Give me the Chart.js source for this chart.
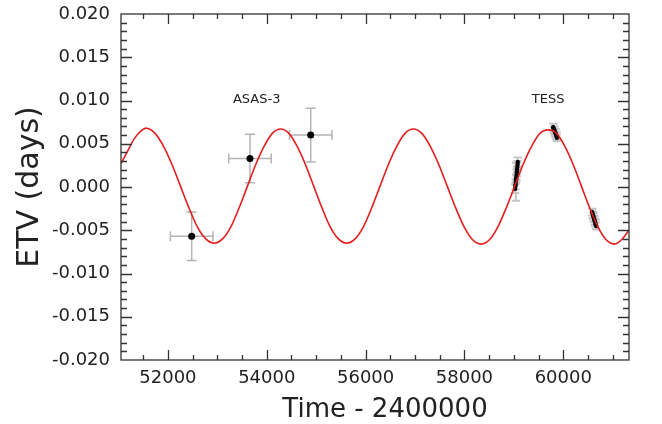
<!DOCTYPE html>
<html>
<head>
<meta charset="utf-8">
<script src="https://cdn.jsdelivr.net/npm/chart.js@4.4.1/dist/chart.umd.min.js"></script>
<style>
  html, body { margin: 0; padding: 0; background: #fff; }
</style>
</head>
<body>
<canvas id="etv" width="662" height="424"></canvas>
<script>
// LTTE model curve
const modelTime = [51050, 51180, 51310, 51440,
  51569, 51740, 51911, 52082, 52253, 52424, 52595, 52766,
  52937, 53105, 53273, 53441, 53609, 53777, 53945, 54113,
  54281, 54448, 54615, 54782, 54949, 55116, 55283, 55450,
  55617, 55786, 55955, 56123, 56292, 56461, 56629, 56798,
  56966, 57137, 57309, 57480, 57651, 57822, 57994, 58165,
  58336, 58506, 58677, 58847, 59017, 59187, 59358, 59528,
  59698, 59865, 60033, 60200, 60367, 60534, 60701, 60868,
  61035, 61180, 61330]
const modelEtv = [0.0027, 0.0041, 0.0055, 0.0064,
  0.0068, 0.0062, 0.0047, 0.0026, 0.0001, -0.0024, -0.0046, -0.0060,
  -0.0065, -0.0060, -0.0046, -0.0024, 0.0001, 0.0026, 0.0047, 0.0062,
  0.0067, 0.0062, 0.0047, 0.0026, 0.0001, -0.0024, -0.0046, -0.0060,
  -0.0065, -0.0060, -0.0046, -0.0024, 0.0001, 0.0026, 0.0047, 0.0062,
  0.0067, 0.0062, 0.0047, 0.0026, 0.0001, -0.0024, -0.0046, -0.0061,
  -0.0066, -0.0061, -0.0046, -0.0024, 0.0001, 0.0026, 0.0047, 0.0062,
  0.0066, 0.0062, 0.0047, 0.0026, 0.0001, -0.0024, -0.0046, -0.0061,
  -0.0066, -0.0061, -0.0050]

// ASAS-3 minima
const asasTime = [52480, 53660, 54889]
const asasEtv = [-0.0057, 0.0033, 0.0060]
const asasTimeErr = [430, 430, 430]
const asasEtvErr = [0.0028, 0.0028, 0.0031]

// TESS minima
const tessTime = [59025, 59030, 59035, 59040, 59045, 59050, 59055, 59060, 59065, 59070, 59075, 59080,
  59795, 59805, 59815, 59825, 59835, 59845, 59855, 59865, 59870,
  60585, 60595, 60605, 60615, 60625, 60635, 60645, 60655, 60665]
const tessEtv = [-0.0002, 0.0001, 0.0003, 0.0006, 0.0009, 0.0011, 0.0014, 0.0017, 0.0020, 0.0023, 0.0026, 0.0029,
  0.0069, 0.0068, 0.0066, 0.0065, 0.0063, 0.0062, 0.0060, 0.0059, 0.0057,
  -0.0029, -0.0031, -0.0033, -0.0035, -0.0037, -0.0039, -0.0041, -0.0043, -0.0045]
const tessEtvErr = [0.0005, 0.0004, 0.0006, 0.0022, 0.0005, 0.0004, 0.0006, 0.0005, 0.0004, 0.0005, 0.0004, 0.0005,
  0.0004, 0.0005, 0.0004, 0.0005, 0.0004, 0.0005, 0.0004, 0.0005, 0.0004,
  0.0004, 0.0005, 0.0004, 0.0005, 0.0004, 0.0005, 0.0004, 0.0005, 0.0004]

const xTicks = [52000, 54000, 56000, 58000, 60000]
const yTicks = [-0.020, -0.015, -0.010, -0.005, 0.000, 0.005, 0.010, 0.015, 0.020]

const labels = [
  { text: 'ASAS-3', x: 53796, y: 0.0101 },
  { text: 'TESS', x: 59692, y: 0.0101 }
]

const ink = '#222'
const font = 'DejaVu Sans'

function points(xs, ys) {
  return xs.map((v, i) => ({ x: v, y: ys[i] }))
}

// gray error bars under the points
const errorBars = {
  id: 'errorBars',
  beforeDatasetsDraw(chart) {
    const { ctx, scales: { x, y } } = chart
    const cap = 5
    ctx.save()
    ctx.strokeStyle = '#b4b4b4'
    ctx.lineWidth = 1.5
    ctx.beginPath()
    asasTime.forEach((t, i) => {
      const px = x.getPixelForValue(t)
      const py = y.getPixelForValue(asasEtv[i])
      const x0 = x.getPixelForValue(t - asasTimeErr[i])
      const x1 = x.getPixelForValue(t + asasTimeErr[i])
      const y0 = y.getPixelForValue(asasEtv[i] - asasEtvErr[i])
      const y1 = y.getPixelForValue(asasEtv[i] + asasEtvErr[i])
      ctx.moveTo(x0, py); ctx.lineTo(x1, py)
      ctx.moveTo(x0, py - cap); ctx.lineTo(x0, py + cap)
      ctx.moveTo(x1, py - cap); ctx.lineTo(x1, py + cap)
      ctx.moveTo(px, y0); ctx.lineTo(px, y1)
      ctx.moveTo(px - cap, y0); ctx.lineTo(px + cap, y0)
      ctx.moveTo(px - cap, y1); ctx.lineTo(px + cap, y1)
    })
    ctx.stroke()
    // TESS bars are dense, so they blend into a soft gray block
    ctx.strokeStyle = 'rgba(150, 150, 150, 0.55)'
    ctx.lineWidth = 2
    ctx.beginPath()
    tessTime.forEach((t, i) => {
      const px = x.getPixelForValue(t)
      const y0 = y.getPixelForValue(tessEtv[i] - tessEtvErr[i])
      const y1 = y.getPixelForValue(tessEtv[i] + tessEtvErr[i])
      ctx.moveTo(px, y0); ctx.lineTo(px, y1)
      ctx.moveTo(px - 4, y0); ctx.lineTo(px + 4, y0)
      ctx.moveTo(px - 4, y1); ctx.lineTo(px + 4, y1)
    })
    ctx.stroke()
    ctx.restore()
  },
  // box frame with inward ticks, axis title and the data-set names
  afterDraw(chart) {
    const { ctx, chartArea: a, scales: { x, y } } = chart
    ctx.save()
    ctx.strokeStyle = '#333'
    ctx.lineWidth = 1.3
    ctx.strokeRect(a.left, a.top, a.right - a.left, a.bottom - a.top)
    ctx.beginPath()
    for (let v = 51500; v < x.max; v += 500) {
      const len = v % 2000 === 0 ? 10 : 5
      const px = Math.round(x.getPixelForValue(v)) + 0.5
      ctx.moveTo(px, a.bottom); ctx.lineTo(px, a.bottom - len)
      ctx.moveTo(px, a.top); ctx.lineTo(px, a.top + len)
    }
    for (let i = -19; i < 20; i++) {
      const len = i % 5 === 0 ? 11 : 6
      const py = Math.round(y.getPixelForValue(i / 1000)) + 0.5
      ctx.moveTo(a.left, py); ctx.lineTo(a.left + len, py)
      ctx.moveTo(a.right, py); ctx.lineTo(a.right - len, py)
    }
    ctx.stroke()
    ctx.fillStyle = ink
    ctx.textAlign = 'center'
    ctx.textBaseline = 'middle'
    ctx.font = '26px "' + font + '"'
    ctx.fillText('Time - 2400000', 385, 410)
    ctx.font = '13px "' + font + '"'
    labels.forEach(l => ctx.fillText(l.text, x.getPixelForValue(l.x), y.getPixelForValue(l.y)))
    ctx.restore()
  }
}

new Chart(document.getElementById('etv'), {
  type: 'scatter',
  data: {
    datasets: [
      {
        type: 'line',
        data: points(modelTime, modelEtv),
        borderColor: 'rgb(226, 30, 30)',
        borderWidth: 1.6,
        pointRadius: 0,
        tension: 0.3,
        fill: false,
        order: 0
      },
      {
        data: points(asasTime, asasEtv),
        backgroundColor: '#000',
        borderWidth: 0,
        pointRadius: 3.5,
        order: 1
      },
      {
        data: points(tessTime, tessEtv),
        backgroundColor: '#000',
        borderWidth: 0,
        pointRadius: 2.2,
        order: 1
      }
    ]
  },
  options: {
    responsive: false,
    animation: false,
    layout: { padding: { left: 0, right: 33, top: 14, bottom: 0 } },
    plugins: { legend: { display: false }, tooltip: { enabled: false } },
    scales: {
      x: {
        type: 'linear',
        min: 51050,
        max: 61330,
        afterBuildTicks: s => { s.ticks = xTicks.map(v => ({ value: v })) },
        afterFit: s => { s.height = 64; s.paddingLeft = 0; s.paddingRight = 0 },
        grid: { display: false, drawTicks: false },
        border: { display: false },
        ticks: { color: ink, font: { family: font, size: 18 }, padding: 8, maxRotation: 0, callback: v => String(v) }
      },
      y: {
        type: 'linear',
        min: -0.02,
        max: 0.02,
        afterBuildTicks: s => { s.ticks = yTicks.map(v => ({ value: v })) },
        afterFit: s => { s.width = 121; s.paddingTop = 0; s.paddingBottom = 0 },
        grid: { display: false, drawTicks: false },
        border: { display: false },
        ticks: { color: ink, font: { family: font, size: 18 }, padding: 11, callback: v => v.toFixed(3) },
        title: { display: true, text: 'ETV (days)', color: ink, font: { family: font, size: 30 }, padding: { top: 12, bottom: 0 } }
      }
    }
  },
  plugins: [errorBars]
})
</script>
</body>
</html>
